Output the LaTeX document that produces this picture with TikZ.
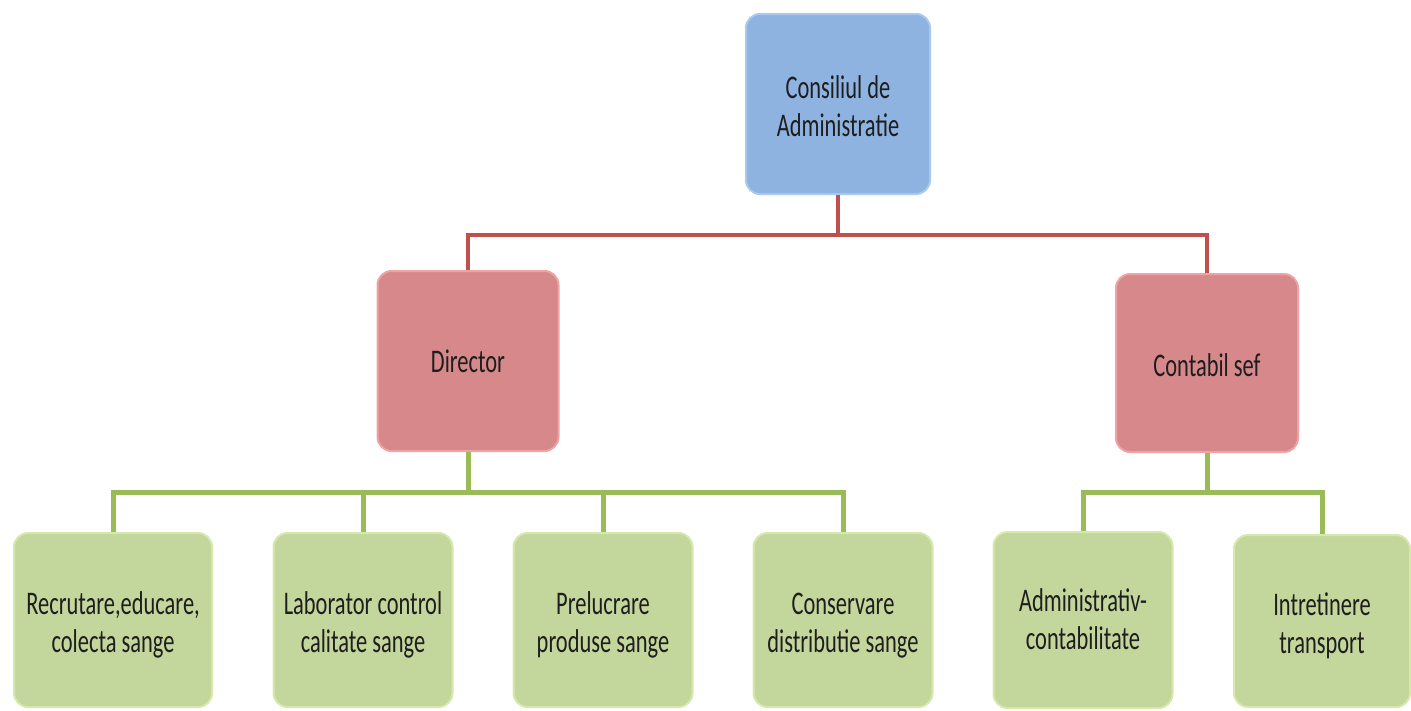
\documentclass[tikz,border=0pt]{standalone}
\usepackage{fontspec}
\setmainfont{Carlito}[FakeStretch=0.68]
\definecolor{boxblue}{HTML}{8EB3E1}
\definecolor{boxblueedge}{HTML}{A9C8EE}
\definecolor{boxred}{HTML}{D6888A}
\definecolor{boxrededge}{HTML}{EFA3A3}
\definecolor{boxgreen}{HTML}{C3D69B}
\definecolor{boxgreenedge}{HTML}{D7E8AC}
\definecolor{linered}{HTML}{C0504D}
\definecolor{linegreen}{HTML}{9BBB59}
\definecolor{txt}{HTML}{1E1E1E}
\tikzset{
  orgbox/.style={rounded corners=14pt, line width=2pt, align=center,
    text=txt, font=\fontsize{33}{38}\selectfont, inner sep=0pt},
  topbox/.style={orgbox, fill=boxblue, draw=boxblueedge},
  midbox/.style={orgbox, fill=boxred, draw=boxrededge},
  lowbox/.style={orgbox, fill=boxgreen, draw=boxgreenedge},
  redline/.style={draw=linered, line width=4pt},
  greenline/.style={draw=linegreen, line width=5pt},
}
\newcommand\shifted[2]{\raisebox{-#1}[\height][\depth]{\begin{tabular}{@{}c@{}}#2\end{tabular}}}
\begin{document}
\begin{tikzpicture}[x=1pt,y=-1pt]
\useasboundingbox (0,0) rectangle (1411,710);
% boxes
\node[topbox, minimum width=184pt, minimum height=180pt] (cons) at (838,104) {\shifted{6pt}{Consiliul de\\Administratie}};
\node[midbox, minimum width=181pt, minimum height=180pt] (dir) at (468,361) {Director};
\node[midbox, minimum width=182pt, minimum height=178pt] (cont) at (1207,363) {\shifted{6pt}{Contabil sef}};
\node[lowbox, minimum width=198pt, minimum height=174pt] (b1) at (113,620) {\shifted{6pt}{Recrutare,educare,\\colecta sange}};
\node[lowbox, minimum width=179pt, minimum height=174pt] (b2) at (363,620) {\shifted{6pt}{Laborator control\\calitate sange}};
\node[lowbox, minimum width=179pt, minimum height=174pt] (b3) at (603,620) {\shifted{6pt}{Prelucrare\\produse sange}};
\node[lowbox, minimum width=179pt, minimum height=174pt] (b4) at (843,620) {\shifted{6pt}{Conservare\\distributie sange}};
\node[lowbox, minimum width=179pt, minimum height=176pt] (b5) at (1083,620) {\shifted{3pt}{Administrativ-\\contabilitate}};
\node[lowbox, minimum width=176pt, minimum height=172pt] (b6) at (1322,621) {\shifted{6pt}{Intretinere\\transport}};
% junction coordinates
\coordinate (jr) at (838,235);
\coordinate (jg) at (468,492);
\coordinate (jc) at (1207,492);
% red connectors
\draw[redline] (cons.south) -- (jr);
\draw[redline] (jr) -| (dir.north);
\draw[redline] (jr) -| (cont.north);
% green connectors
\draw[greenline] (dir.south) -- (jg);
\foreach \b in {b1,b2,b3,b4} \draw[greenline] (jg) -| (\b.north);
\draw[greenline] (cont.south) -- (jc);
\foreach \b in {b5,b6} \draw[greenline] (jc) -| (\b.north);
\end{tikzpicture}
\end{document}
